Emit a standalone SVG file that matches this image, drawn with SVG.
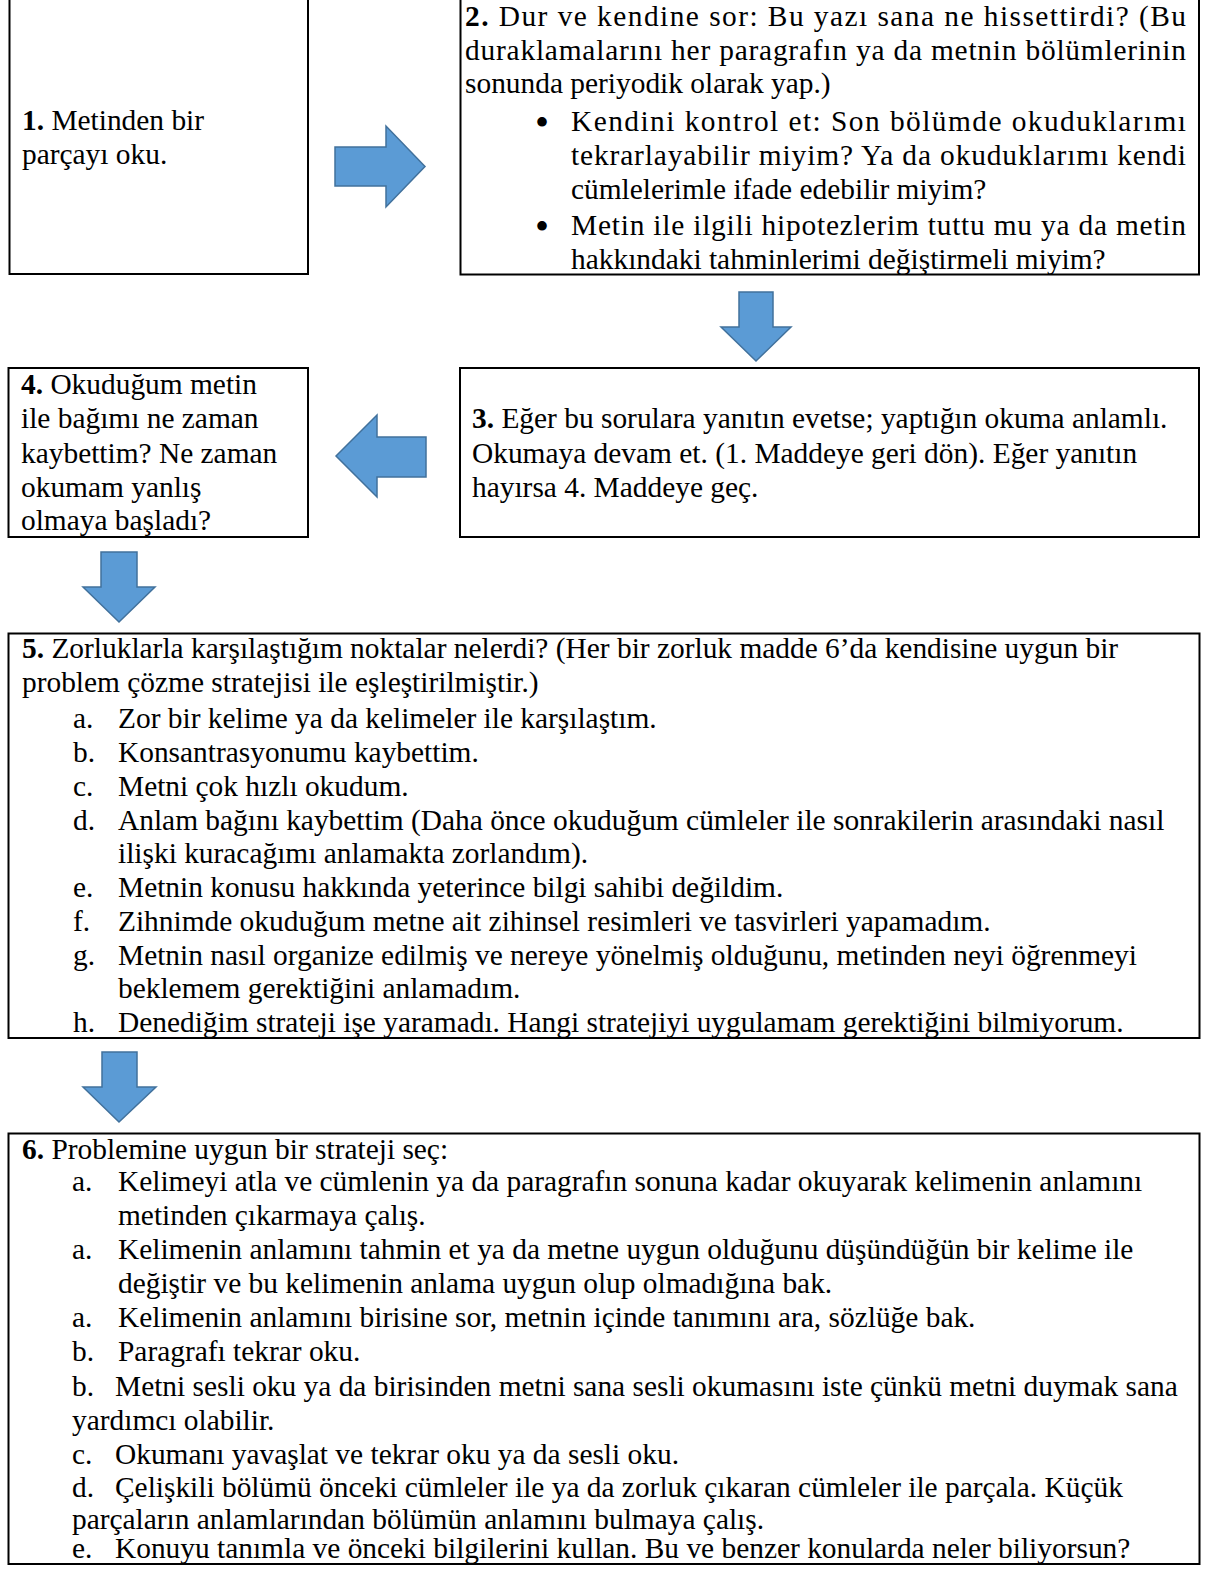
<svg xmlns="http://www.w3.org/2000/svg" width="1207" height="1573" viewBox="0 0 1207 1573">
<style>
.box{fill:none;stroke:#000;stroke-width:2}
.arr{fill:#5B9BD5;stroke:#41719C;stroke-width:1.5;stroke-linejoin:miter}
text{font-family:"Liberation Serif","Times New Roman",serif;font-size:29.4px;fill:#000}
.b{font-weight:bold}
.bul{font-size:40px}
</style>
<rect width="1207" height="1573" fill="#fff"/>
<g id="connectors">
<polygon class="arr" points="335,147 386,147 386,126 425,166.5 386,207 386,186 335,186"/>
<polygon class="arr" points="739,292 773,292 773,327 791,327 756,361 721,327 739,327"/>
<polygon class="arr" points="336,456 377,415 377,437 426,437 426,477 377,477 377,497"/>
<polygon class="arr" points="101,552 137,552 137,587 155,587 119,622 83,587 101,587"/>
<polygon class="arr" points="102,1052 137,1052 137,1087 156,1087 119,1122 83,1087 102,1087"/>
</g>
<g id="node1">
<rect class="box" x="9.5" y="-2" width="298.5" height="276"/>
<text x="22" y="130"><tspan class="b">1.</tspan> Metinden bir</text>
<text x="22" y="163.5">parçayı oku.</text>
</g>
<g id="node2">
<rect class="box" x="460.5" y="-2" width="738.5" height="276.5"/>
<text x="465" y="26" textLength="721" lengthAdjust="spacing"><tspan class="b">2.</tspan> Dur ve kendine sor: Bu yazı sana ne hissettirdi? (Bu</text>
<text x="465" y="59.5" textLength="721" lengthAdjust="spacing">duraklamalarını her paragrafın ya da metnin bölümlerinin</text>
<text x="465" y="93">sonunda periyodik olarak yap.)</text>
<text class="bul" x="535" y="136">•</text>
<text x="571" y="131" textLength="615" lengthAdjust="spacing">Kendini kontrol et: Son bölümde okuduklarımı</text>
<text x="571" y="165" textLength="615" lengthAdjust="spacing">tekrarlayabilir miyim? Ya da okuduklarımı kendi</text>
<text x="571" y="198.5">cümlelerimle ifade edebilir miyim?</text>
<text class="bul" x="535" y="240">•</text>
<text x="571" y="235" textLength="615" lengthAdjust="spacing">Metin ile ilgili hipotezlerim tuttu mu ya da metin</text>
<text x="571" y="268.5">hakkındaki tahminlerimi değiştirmeli miyim?</text>
</g>
<g id="node3">
<rect class="box" x="460" y="368" width="739" height="169"/>
<text x="472" y="428"><tspan class="b">3.</tspan> Eğer bu sorulara yanıtın evetse; yaptığın okuma anlamlı.</text>
<text x="472" y="462.5">Okumaya devam et. (1. Maddeye geri dön). Eğer yanıtın</text>
<text x="472" y="497">hayırsa 4. Maddeye geç.</text>
</g>
<g id="node4">
<rect class="box" x="8.5" y="368" width="299.5" height="169"/>
<text x="21" y="394"><tspan class="b">4.</tspan> Okuduğum metin</text>
<text x="21" y="428">ile bağımı ne zaman</text>
<text x="21" y="462.5">kaybettim? Ne zaman</text>
<text x="21" y="496.5">okumam yanlış</text>
<text x="21" y="530">olmaya başladı?</text>
</g>
<g id="node5">
<rect class="box" x="8.5" y="633.5" width="1191" height="404.5"/>
<text x="22" y="658"><tspan class="b">5.</tspan> Zorluklarla karşılaştığım noktalar nelerdi? (Her bir zorluk madde 6’da kendisine uygun bir</text>
<text x="22" y="692">problem çözme stratejisi ile eşleştirilmiştir.)</text>
<text x="73" y="728">a.</text><text x="118" y="728">Zor bir kelime ya da kelimeler ile karşılaştım.</text>
<text x="73" y="761.5">b.</text><text x="118" y="761.5">Konsantrasyonumu kaybettim.</text>
<text x="73" y="795.5">c.</text><text x="118" y="795.5">Metni çok hızlı okudum.</text>
<text x="73" y="829.5">d.</text><text x="118" y="829.5">Anlam bağını kaybettim (Daha önce okuduğum cümleler ile sonrakilerin arasındaki nasıl</text>
<text x="118" y="863">ilişki kuracağımı anlamakta zorlandım).</text>
<text x="73" y="897">e.</text><text x="118" y="897">Metnin konusu hakkında yeterince bilgi sahibi değildim.</text>
<text x="73" y="930.5">f.</text><text x="118" y="930.5">Zihnimde okuduğum metne ait zihinsel resimleri ve tasvirleri yapamadım.</text>
<text x="73" y="964.5">g.</text><text x="118" y="964.5">Metnin nasıl organize edilmiş ve nereye yönelmiş olduğunu, metinden neyi öğrenmeyi</text>
<text x="118" y="998">beklemem gerektiğini anlamadım.</text>
<text x="73" y="1031.5">h.</text><text x="118" y="1031.5">Denediğim strateji işe yaramadı. Hangi stratejiyi uygulamam gerektiğini bilmiyorum.</text>
</g>
<g id="node6">
<rect class="box" x="8.5" y="1133.5" width="1191" height="430.5"/>
<text x="22" y="1159"><tspan class="b">6.</tspan> Problemine uygun bir strateji seç:</text>
<text x="72" y="1191">a.</text><text x="118" y="1191">Kelimeyi atla ve cümlenin ya da paragrafın sonuna kadar okuyarak kelimenin anlamını</text>
<text x="118" y="1225">metinden çıkarmaya çalış.</text>
<text x="72" y="1259">a.</text><text x="118" y="1259">Kelimenin anlamını tahmin et ya da metne uygun olduğunu düşündüğün bir kelime ile</text>
<text x="118" y="1293">değiştir ve bu kelimenin anlama uygun olup olmadığına bak.</text>
<text x="72" y="1327">a.</text><text x="118" y="1327">Kelimenin anlamını birisine sor, metnin içinde tanımını ara, sözlüğe bak.</text>
<text x="72" y="1361">b.</text><text x="118" y="1361">Paragrafı tekrar oku.</text>
<text x="72" y="1396">b.</text><text x="115" y="1396">Metni sesli oku ya da birisinden metni sana sesli okumasını iste çünkü metni duymak sana</text>
<text x="72" y="1430">yardımcı olabilir.</text>
<text x="72" y="1464">c.</text><text x="115" y="1464">Okumanı yavaşlat ve tekrar oku ya da sesli oku.</text>
<text x="72" y="1497">d.</text><text x="115" y="1497">Çelişkili bölümü önceki cümleler ile ya da zorluk çıkaran cümleler ile parçala. Küçük</text>
<text x="72" y="1529">parçaların anlamlarından bölümün anlamını bulmaya çalış.</text>
<text x="72" y="1558">e.</text><text x="115" y="1558">Konuyu tanımla ve önceki bilgilerini kullan. Bu ve benzer konularda neler biliyorsun?</text>
</g>
</svg>
